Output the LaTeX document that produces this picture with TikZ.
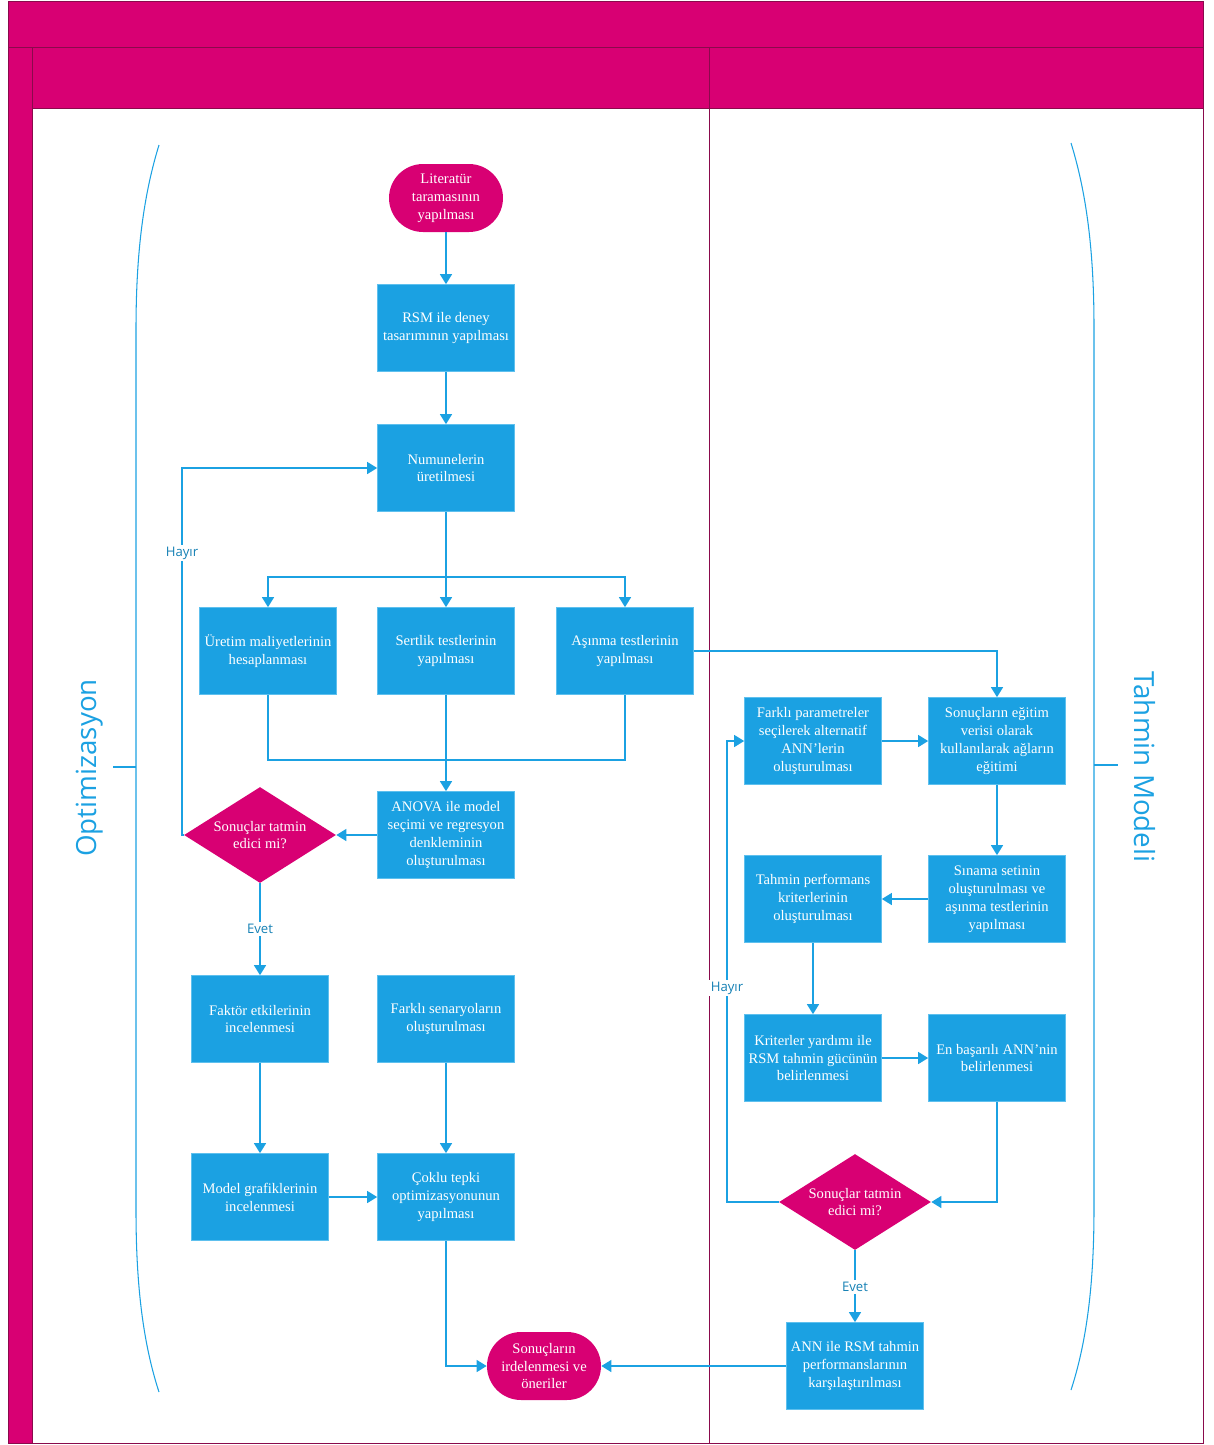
\documentclass[tikz,border=0pt]{standalone}
\usepackage{fontspec}
\setmainfont{Liberation Serif}
\newfontfamily\lanefont{Open Sans}
\usetikzlibrary{arrows.meta,shapes.geometric}
\definecolor{mag}{HTML}{D80073}
\definecolor{magline}{HTML}{8A0A4C}
\definecolor{cyanbox}{HTML}{1BA1E2}
\definecolor{cyanline}{HTML}{5EC0EE}
\begin{document}
\begin{tikzpicture}[x=0.02cm,y=-0.02cm,
  box/.style={draw=cyanline,fill=cyanbox,text=white,minimum width=2.74cm,minimum height=1.74cm,align=center,inner sep=1pt,font=\fontsize{8.3}{10.2}\selectfont},
  term/.style={fill=mag,text=white,minimum width=2.28cm,minimum height=1.36cm,rounded corners=0.68cm,align=center,inner sep=1pt,font=\fontsize{8.3}{10.2}\selectfont},
  dec/.style={diamond,fill=mag,minimum width=3.04cm,minimum height=1.92cm,inner sep=0pt,
    label={[text=white,align=center,font=\fontsize{8.3}{10.2}\selectfont]center:#1}},
  flow/.style={draw=cyanbox,line width=0.8pt},
  arr/.style={flow,-{Triangle[width=0.24cm,length=0.2cm]}},
  lbl/.style={fill=white,text=cyanbox!80!black,inner sep=1pt,font=\lanefont\fontsize{7.5}{9}\selectfont},
  lane/.style={text=cyanbox,font=\lanefont\fontsize{15.8}{18}\selectfont}]
\useasboundingbox (0,0) rectangle (1214,1445);

% swimlane frame
\fill[mag] (8,1) rectangle (1203,108);
\fill[mag] (8,47) rectangle (32,1443);
\draw[magline] (8,1) rectangle (1203,1443);
\draw[magline] (8,47) -- (1203,47);
\draw[magline] (32,47) -- (32,1443);
\draw[magline] (32,108) -- (1203,108);
\draw[magline] (709,47) -- (709,1443);

% left lane
\node[term] (v1) at (446,198) {Literatür\\taramasının\\yapılması};
\node[box] (v2) at (446,328) {RSM ile deney\\tasarımının yapılması};
\node[box] (v3) at (446,468) {Numunelerin\\üretilmesi};
\node[box] (v4) at (268,651) {Üretim maliyetlerinin\\hesaplanması};
\node[box] (v5) at (446,651) {Sertlik testlerinin\\yapılması};
\node[box] (v6) at (625,651) {Aşınma testlerinin\\yapılması};
\node[box] (v7) at (446,835) {ANOVA ile model\\seçimi ve regresyon\\denkleminin\\oluşturulması};
\node[dec={Sonuçlar tatmin\\edici mi?}] (v8) at (260,835) {};
\node[box] (v9) at (260,1019) {Faktör etkilerinin\\incelenmesi};
\node[box] (v10) at (446,1019) {Farklı senaryoların\\oluşturulması};
\node[box] (v11) at (260,1197) {Model grafiklerinin\\incelenmesi};
\node[box] (v12) at (446,1197) {Çoklu tepki\\optimizasyonunun\\yapılması};
\node[term] (v13) at (544,1366) {Sonuçların\\irdelenmesi ve\\öneriler};

% right lane
\node[box] (v14) at (813,741) {Farklı parametreler\\seçilerek alternatif\\ANN’lerin\\oluşturulması};
\node[box] (v15) at (997,741) {Sonuçların eğitim\\verisi olarak\\kullanılarak ağların\\eğitimi};
\node[box] (v16) at (813,899) {Tahmin performans\\kriterlerinin\\oluşturulması};
\node[box] (v17) at (997,899) {Sınama setinin\\oluşturulması ve\\aşınma testlerinin\\yapılması};
\node[box] (v18) at (813,1058) {Kriterler yardımı ile\\RSM tahmin gücünün\\belirlenmesi};
\node[box] (v19) at (997,1058) {En başarılı ANN’nin\\belirlenmesi};
\node[dec={Sonuçlar tatmin\\edici mi?}] (v20) at (855,1202) {};
\node[box] (v21) at (855,1366) {ANN ile RSM tahmin\\performanslarının\\karşılaştırılması};

\coordinate (j1) at (446,577);
\coordinate (j2) at (446,760);
\coordinate (h1) at (182,835);
\coordinate (h2) at (727,1202);

\draw[arr] (v1) -- (v2);
\draw[arr] (v2) -- (v3);
\draw[arr] (v3) -- (v5);
\draw[arr] (j1) -| (v4);
\draw[arr] (j1) -| (v6);
\draw[flow] (v4) |- (j2);
\draw[flow] (v6) |- (j2);
\draw[arr] (v5) -- (v7);
\draw[arr] (v7) -- (v8);
\draw[arr] (v8.west) -- (h1) |- (v3);
\draw[arr] (v8) -- (v9);
\draw[arr] (v9) -- (v11);
\draw[arr] (v10) -- (v12);
\draw[arr] (v11) -- (v12);
\draw[arr] (v12) |- (v13);
\draw[arr] (v21) -- (v13);
\draw[arr] (v6) -| (v15);
\draw[arr] (v14) -- (v15);
\draw[arr] (v15) -- (v17);
\draw[arr] (v17) -- (v16);
\draw[arr] (v16) -- (v18);
\draw[arr] (v18) -- (v19);
\draw[arr] (v19) |- (v20);
\draw[arr] (v20.west) -- (h2) |- (v14);
\draw[arr] (v20) -- (v21);

\node[lbl] (t1) at (182,553) {Hayır};
\node[lbl] (t2) at (260,929) {Evet};
\node[lbl] (t3) at (727,988) {Hayır};
\node[lbl] (t4) at (855,1287) {Evet};

% lane braces
\draw[cyanbox,line width=0.6pt] (159,145) .. controls (142,200) and (136,260) .. (136,330) -- (136,1210) .. controls (136,1280) and (142,1340) .. (159,1392);
\draw[cyanbox,line width=0.6pt] (113,767) -- (136,767);
\draw[cyanbox,line width=0.6pt] (1071,143) .. controls (1088,198) and (1094,258) .. (1094,328) -- (1094,1208) .. controls (1094,1278) and (1088,1338) .. (1071,1390);
\draw[cyanbox,line width=0.6pt] (1094,765) -- (1118,765);
\node[lane,rotate=90] (l1) at (90,768) {Optimizasyon};
\node[lane,rotate=-90] (l2) at (1145,767) {Tahmin Modeli};
\end{tikzpicture}
\end{document}
